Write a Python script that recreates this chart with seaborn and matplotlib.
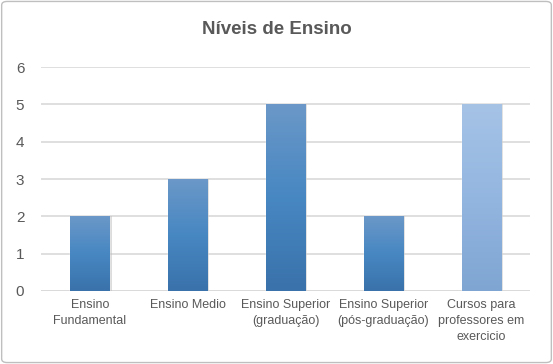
import numpy as np
import pandas as pd
import seaborn as sns
from matplotlib import pyplot as plt
from matplotlib.colors import LinearSegmentedColormap
from matplotlib.patches import FancyBboxPatch

categories = ["Ensino\nFundamental", "Ensino Medio", "Ensino Superior\n(graduação)",
              "Ensino Superior\n(pós-graduação)", "Cursos para\nprofessores em\nexercicio"]
values = [2, 3, 5, 2, 5]
title = "Níveis de Ensino"

df = pd.DataFrame({"nivel": categories, "qtd": values})

sns.set_theme(style="white")
plt.rcParams["font.family"] = ["Liberation Sans", "DejaVu Sans"]

fig = plt.figure(figsize=(5.53, 3.64), dpi=100)
ax = fig.add_axes([41 / 553, 1 - 291 / 364, 489 / 553, 224 / 364])

sns.barplot(data=df, x="nivel", y="qtd", color="#4A86C0", width=0.4, ax=ax, zorder=3)

# gradient fill inside each bar
normal = LinearSegmentedColormap.from_list("n", ["#3A72AB", "#4787C2", "#6B98C8"])
light = LinearSegmentedColormap.from_list("l", ["#7FA5D2", "#93B6E0", "#A6C3E6"])
grad = np.linspace(0, 1, 256).reshape(-1, 1)
bars = list(ax.patches)
for i, bar in enumerate(bars):
    x0, y0 = bar.get_x(), bar.get_y()
    w, h = bar.get_width(), bar.get_height()
    cmap = light if i == len(bars) - 1 else normal
    # soft shadow
    ax.bar(x0 + w / 2 + 0.012, h, width=w + 0.02, bottom=0, color="#BBBBBB",
           alpha=0.5, zorder=2, linewidth=0)
    im = ax.imshow(grad, extent=(x0, x0 + w, y0, y0 + h), origin="lower",
                   cmap=cmap, aspect="auto", zorder=4)
    im.set_clip_path(bar)

ax.set_xlim(-0.5, len(categories) - 0.5)
ax.set_ylim(0, 6)
ax.set_yticks(range(0, 7))
ax.yaxis.grid(True, color="#D9D9D9", linewidth=1.2, zorder=0)
ax.set_axisbelow(True)
for s in ax.spines.values():
    s.set_visible(False)
ax.axhline(0, color="#D9D9D9", linewidth=1.2, zorder=1)

ax.set_xlabel("")
ax.set_ylabel("")
ax.tick_params(axis="y", labelsize=11, colors="#595959", length=0, pad=12)
ax.tick_params(axis="x", labelsize=9, colors="#595959", length=0, pad=6)
for lbl in ax.get_xticklabels():
    lbl.set_linespacing(1.45)

fig.text(0.5, 1 - 30 / 364, title, ha="center", va="center", fontsize=13.5,
         fontweight="bold", color="#595959")

fig.patches.append(FancyBboxPatch((0.003, 0.004), 0.994, 0.992,
                                  boxstyle="round,pad=0,rounding_size=0.01",
                                  transform=fig.transFigure, fill=False,
                                  edgecolor="#BFBFBF", linewidth=1))

fig.savefig("out.png", dpi=100)
